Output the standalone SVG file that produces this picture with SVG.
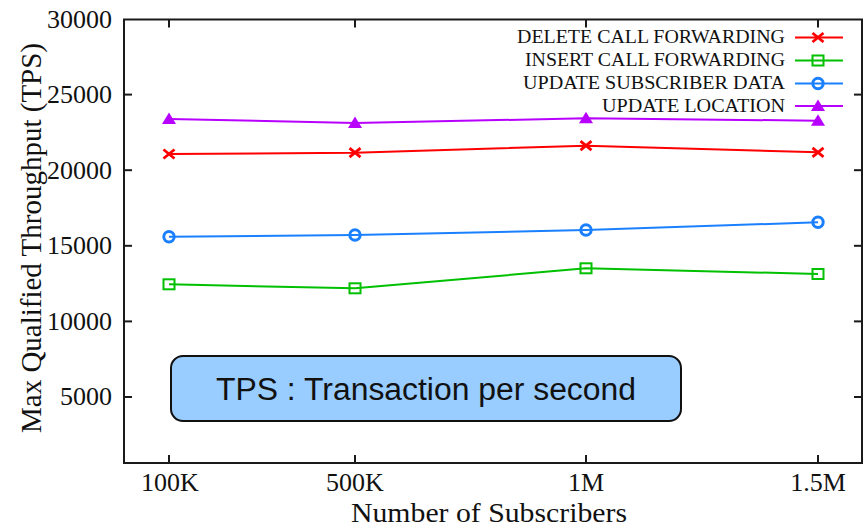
<svg xmlns="http://www.w3.org/2000/svg" width="867" height="529" viewBox="0 0 867 529">
<style>
.frame{fill:none;stroke:#1a1a1a;stroke-width:2}
.tick{stroke:#1a1a1a;stroke-width:2}
.lbl{font-family:"Liberation Serif","Times New Roman",serif;fill:#111}
.ytl{font-size:26px;text-anchor:end}
.xtl{font-size:26px;text-anchor:middle}
.leg{font-size:19.5px;text-anchor:end}
.ser{fill:none;stroke-width:2;stroke-linejoin:round}
.red{stroke:#ff0000}
.green{stroke:#00c000}
.blue{stroke:#1a80ff}
.purple{stroke:#b800ff}
</style>
<defs>
<path id="mx" d="M-5.5,-4.5 L5.5,4.5 M-5.5,4.5 L5.5,-4.5" fill="none" stroke="#ff0000" stroke-width="2.8"/>
<rect id="msq" x="-5.5" y="-5" width="11" height="10" fill="none" stroke="#00c000" stroke-width="2"/>
<circle id="mci" r="5.2" fill="none" stroke="#1a80ff" stroke-width="3"/>
<path id="mtr" d="M0,-6.5 L7,5 L-7,5 Z" fill="#b800ff"/>
</defs>
<rect width="867" height="529" fill="#ffffff"/>

<g id="axes">
<rect class="frame" x="124" y="19.5" width="738" height="443.5"/>
<g class="tick">
<line x1="124" y1="94.6" x2="132" y2="94.6"/>
<line x1="124" y1="170.2" x2="132" y2="170.2"/>
<line x1="124" y1="245.8" x2="132" y2="245.8"/>
<line x1="124" y1="321.4" x2="132" y2="321.4"/>
<line x1="124" y1="397" x2="132" y2="397"/>
<line x1="862" y1="94.6" x2="854" y2="94.6"/>
<line x1="862" y1="170.2" x2="854" y2="170.2"/>
<line x1="862" y1="245.8" x2="854" y2="245.8"/>
<line x1="862" y1="321.4" x2="854" y2="321.4"/>
<line x1="862" y1="397" x2="854" y2="397"/>
<line x1="169" y1="463" x2="169" y2="455"/>
<line x1="355" y1="463" x2="355" y2="455"/>
<line x1="586" y1="463" x2="586" y2="455"/>
<line x1="818" y1="463" x2="818" y2="455"/>
<line x1="169" y1="19.5" x2="169" y2="27.5"/>
<line x1="355" y1="19.5" x2="355" y2="27.5"/>
<line x1="586" y1="19.5" x2="586" y2="27.5"/>
<line x1="818" y1="19.5" x2="818" y2="27.5"/>
</g>
<g class="lbl ytl">
<text x="112" y="27.5">30000</text>
<text x="112" y="103">25000</text>
<text x="112" y="178.5">20000</text>
<text x="112" y="254">15000</text>
<text x="112" y="329.5">10000</text>
<text x="112" y="405">5000</text>
</g>
<g class="lbl xtl">
<text x="170" y="491">100K</text>
<text x="355" y="491">500K</text>
<text x="586" y="491">1M</text>
<text x="818" y="491">1.5M</text>
</g>
<text class="lbl" x="489" y="522" font-size="28" text-anchor="middle" textLength="276" lengthAdjust="spacingAndGlyphs">Number of Subscribers</text>
<text class="lbl" transform="translate(41,238) rotate(-90)" font-size="29" text-anchor="middle" textLength="390" lengthAdjust="spacingAndGlyphs">Max Qualified Throughput (TPS)</text>
</g>

<g id="connectors">
<polyline class="ser purple" points="169,119 355,123 586,118.3 818,120.7"/>
<polyline class="ser red" points="169,154 355,152.7 586,145.7 818,152.3"/>
<polyline class="ser blue" points="169,236.7 355,235 586,230 818,222.3"/>
<polyline class="ser green" points="169,284.3 355,288.3 586,268.3 818,274"/>
</g>

<g id="series-delete">
<use href="#mx" x="169" y="154"/><use href="#mx" x="355" y="152.7"/><use href="#mx" x="586" y="145.7"/><use href="#mx" x="818" y="152.3"/>
</g>
<g id="series-insert">
<use href="#msq" x="169" y="284.3"/><use href="#msq" x="355" y="288.3"/><use href="#msq" x="586" y="268.3"/><use href="#msq" x="818" y="274"/>
</g>
<g id="series-subscriber">
<use href="#mci" x="169" y="236.7"/><use href="#mci" x="355" y="235"/><use href="#mci" x="586" y="230"/><use href="#mci" x="818" y="222.3"/>
</g>
<g id="series-location">
<use href="#mtr" x="169" y="119"/><use href="#mtr" x="355" y="123"/><use href="#mtr" x="586" y="118.3"/><use href="#mtr" x="818" y="120.7"/>
</g>

<g id="legend">
<text class="lbl leg" x="785" y="43" textLength="268" lengthAdjust="spacingAndGlyphs">DELETE CALL FORWARDING</text>
<line class="ser red" x1="795" y1="37.5" x2="843" y2="37.5"/>
<use href="#mx" x="818" y="37.5"/>
<text class="lbl leg" x="785" y="66" textLength="260" lengthAdjust="spacingAndGlyphs">INSERT CALL FORWARDING</text>
<line class="ser green" x1="795" y1="60.5" x2="843" y2="60.5"/>
<use href="#msq" x="818" y="60.5"/>
<text class="lbl leg" x="785" y="89" textLength="262" lengthAdjust="spacingAndGlyphs">UPDATE SUBSCRIBER DATA</text>
<line class="ser blue" x1="795" y1="83.5" x2="843" y2="83.5"/>
<use href="#mci" x="818" y="83.5"/>
<text class="lbl leg" x="785" y="111.5" textLength="183" lengthAdjust="spacingAndGlyphs">UPDATE LOCATION</text>
<line class="ser purple" x1="795" y1="106" x2="843" y2="106"/>
<use href="#mtr" x="818" y="106"/>
</g>

<g id="tps-note">
<rect x="171" y="356" width="510" height="65" rx="12" ry="12" fill="#99ccff" stroke="#111" stroke-width="2"/>
<text x="426" y="400" font-family="Liberation Sans, Arial, sans-serif" font-size="31" text-anchor="middle" fill="#111" textLength="420" lengthAdjust="spacingAndGlyphs">TPS : Transaction per second</text>
</g>
</svg>
